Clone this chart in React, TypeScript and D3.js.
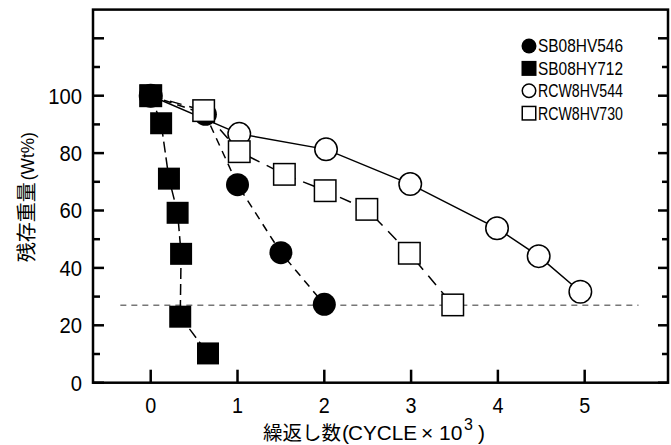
import React from 'react';
import * as d3 from 'd3';

// ---- data ----
const sb546X = [0, 0.63, 1.0, 1.5, 2.0];
const sb546Y = [100, 93.5, 69, 45.3, 27.3];
const sb712X = [0, 0.12, 0.21, 0.31, 0.35, 0.34, 0.66];
const sb712Y = [100, 90.4, 71.1, 59.2, 44.9, 23, 10.2];
const rcw544X = [0, 1.02, 2.02, 2.99, 3.99, 4.47, 4.95];
const rcw544Y = [100, 86.7, 81.3, 69.2, 53.8, 44.1, 31.7];
const rcw730X = [0, 0.61, 1.02, 1.54, 2.01, 2.49, 2.98, 3.48];
const rcw730Y = [100, 94.8, 80.5, 72.6, 66.9, 60.4, 45.1, 27.1];
const thresholdY = 27;
const thresholdX = [-0.35, 5.62];

const xTicks = [0, 1, 2, 3, 4, 5];
const yLabelTicks = [0, 20, 40, 60, 80, 100];
const yMajorTicks = [0, 20, 40, 60, 80, 100, 120];
const yMinorTicks = [10, 30, 50, 70, 90, 110];
const legendNames = ['SB08HV546', 'SB08HY712', 'RCW8HV544', 'RCW8HV730'];

const W = 671, H = 445;
const L = 93, R = 668, T = 9.6, B = 382.7;

const x = d3.scaleLinear().domain([-0.665, 5.96]).range([L, R]);
const y = d3.scaleLinear().domain([0, 130]).range([B, T]);

type Pt = [number, number];
const zip = (xs: number[], ys: number[]): Pt[] => xs.map((v, i) => [v, ys[i]]);
const line = d3.line<Pt>().x(d => x(d[0])).y(d => y(d[1]));

const s546 = zip(sb546X, sb546Y);
const s712 = zip(sb712X, sb712Y);
const s544 = zip(rcw544X, rcw544Y);
const s730 = zip(rcw730X, rcw730Y);

const numFont = '"Liberation Sans", Arial, sans-serif';
const cjkFont = '"Noto Sans CJK JP", "Noto Sans", sans-serif';

const SQ = 22; // data square side
const CR = 11.5; // data circle radius

function Marker({ kind, cx, cy, size }: { kind: number; cx: number; cy: number; size: number }) {
  if (kind === 0) return <circle cx={cx} cy={cy} r={size / 2} fill="#000" />;
  if (kind === 1) return <rect x={cx - size / 2} y={cy - size / 2} width={size} height={size} fill="#000" />;
  if (kind === 2)
    return <circle cx={cx} cy={cy} r={size / 2 - 0.75} fill="#fff" stroke="#000" strokeWidth={1.5} />;
  return (
    <rect x={cx - size / 2 + 0.75} y={cy - size / 2 + 0.75} width={size - 1.5} height={size - 1.5}
      fill="#fff" stroke="#000" strokeWidth={1.5} />
  );
}

export default function App() {
  const midY = (T + B) / 2;
  return (
    <svg width={W} height={H} style={{ position: 'absolute', left: 0, top: 0, background: '#fff' }}>
      <rect x={0} y={0} width={W} height={H} fill="#fff" />
      {/* threshold */}
      <line x1={x(thresholdX[0])} x2={x(thresholdX[1])} y1={y(thresholdY)} y2={y(thresholdY)}
        stroke="#777" strokeWidth={1.5} strokeDasharray="6,5" />
      {/* series lines */}
      <path d={line(s544) || ''} fill="none" stroke="#000" strokeWidth={1.5} />
      <path d={line(s546) || ''} fill="none" stroke="#000" strokeWidth={1.5} strokeDasharray="8,6" />
      <path d={line(s730) || ''} fill="none" stroke="#000" strokeWidth={1.5} strokeDasharray="12,8" />
      <path d={line(s712) || ''} fill="none" stroke="#000" strokeWidth={1.5} strokeDasharray="11,5" />
      {/* markers */}
      {s544.map((d, i) => <Marker key={'c' + i} kind={2} cx={x(d[0])} cy={y(d[1])} size={CR * 2 + 1} />)}
      {s546.map((d, i) => <Marker key={'f' + i} kind={0} cx={x(d[0])} cy={y(d[1])} size={CR * 2} />)}
      {s730.map((d, i) => <Marker key={'s' + i} kind={3} cx={x(d[0])} cy={y(d[1])} size={SQ + 1} />)}
      {s712.map((d, i) => <Marker key={'q' + i} kind={1} cx={x(d[0])} cy={y(d[1])} size={SQ} />)}

      {/* frame */}
      <rect x={L} y={T} width={R - L} height={B - T} fill="none" stroke="#000" strokeWidth={2.5} />
      {/* ticks */}
      {xTicks.map(t => (
        <line key={'xt' + t} x1={x(t)} x2={x(t)} y1={B} y2={B - 13} stroke="#000" strokeWidth={2.5} />
      ))}
      {yMajorTicks.map(t => (
        <g key={'ym' + t}>
          <line x1={L} x2={L + 11} y1={y(t)} y2={y(t)} stroke="#000" strokeWidth={2.5} />
          <line x1={R} x2={R - 10} y1={y(t)} y2={y(t)} stroke="#000" strokeWidth={2.5} />
        </g>
      ))}
      {yMinorTicks.map(t => (
        <g key={'yn' + t}>
          <line x1={L} x2={L + 7} y1={y(t)} y2={y(t)} stroke="#000" strokeWidth={2.5} />
          <line x1={R} x2={R - 6} y1={y(t)} y2={y(t)} stroke="#000" strokeWidth={2.5} />
        </g>
      ))}
      {/* tick labels */}
      {xTicks.map(t => (
        <text key={'xl' + t} transform={`translate(${x(t)},413) scale(0.9,1)`} textAnchor="middle"
          fontFamily={numFont} fontSize={22} fill="#000">{t}</text>
      ))}
      {yLabelTicks.map(t => (
        <text key={'yl' + t} transform={`translate(82,${y(t)}) scale(0.92,1)`} dy="0.36em" textAnchor="end"
          fontFamily={numFont} fontSize={22} fill="#000">{t}</text>
      ))}
      {/* x axis title */}
      <g fill="#000">
        <text x={263} y={440} fontFamily={cjkFont} fontSize={19.5}>繰返し数</text>
        <text x={342} y={440} fontFamily={numFont} fontSize={21}>(</text>
        <text x={348} y={440} fontFamily={numFont} fontSize={21} textLength={69} lengthAdjust="spacingAndGlyphs">CYCLE</text>
        <text x={421} y={440} fontFamily={numFont} fontSize={21}>×</text>
        <text x={439} y={440} fontFamily={numFont} fontSize={21}>10</text>
        <text x={464} y={430} fontFamily={numFont} fontSize={16}>3</text>
        <text x={478} y={440} fontFamily={numFont} fontSize={21}>)</text>
      </g>
      {/* y axis title */}
      <g transform={`translate(34,${midY}) rotate(-90)`} fill="#000" opacity={0.999}>
        <text x={-66} y={0} fontFamily={cjkFont} fontSize={20} fill="#000">残存重量</text>
        <text x={16} y={0} fontFamily={numFont} fontSize={18} fill="#000" textLength={48} lengthAdjust="spacingAndGlyphs">(Wt%)</text>
      </g>
      {/* legend */}
      {legendNames.map((n, i) => {
        const ly = 46 + i * 22.4;
        return (
          <g key={n}>
            <Marker kind={i} cx={529} cy={ly} size={15} />
            <text x={538} y={ly} dy="0.36em" fontFamily={numFont} fontSize={18} fill="#000"
              textLength={85} lengthAdjust="spacingAndGlyphs">{n}</text>
          </g>
        );
      })}
    </svg>
  );
}
